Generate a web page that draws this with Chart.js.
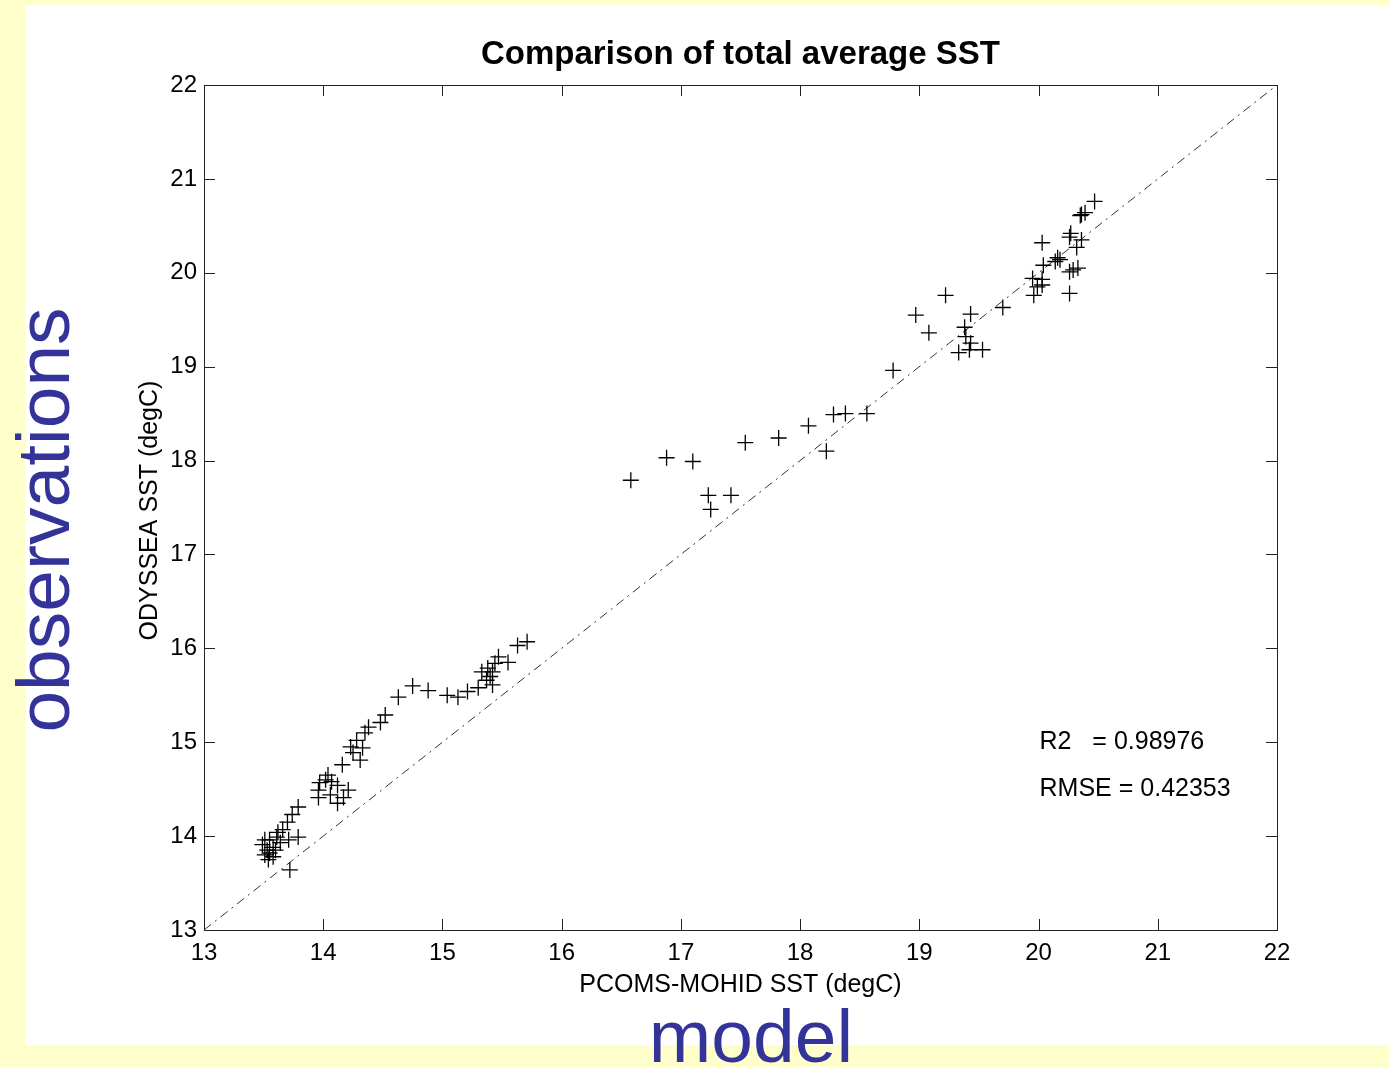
<!DOCTYPE html>
<html>
<head>
<meta charset="utf-8">
<title>Comparison of total average SST</title>
<script src="https://cdn.jsdelivr.net/npm/chart.js@4/dist/chart.umd.min.js"></script>
<style>
  html, body { margin: 0; padding: 0; background: #ffffcc; }
  canvas { display: block; }
</style>
</head>
<body>
<canvas id="sst-chart" width="1389" height="1067"></canvas>
<script>
// Modell (PCOMS-MOHID) gegen Satellit (ODYSSEA), Mittelwerte in degC
const modelSST = [
  14.52, 14.48, 14.38, 14.35, 14.28, 14.23, 14.33, 14.25, 14.31, 14.16,
  14.04, 14.02, 14.07, 13.97, 14.12, 13.96, 14.21, 14.06, 14.17, 14.12,
  13.96, 13.79, 13.74, 13.70, 13.66, 13.79, 13.61, 13.55, 13.71, 13.64,
  13.58, 13.53, 13.55, 13.51, 13.58, 13.54, 13.72, 13.60, 13.49, 13.62,
  13.51,
  14.63, 14.75, 14.88, 15.04, 15.13, 15.21, 15.30, 15.42, 15.37, 15.40,
  15.33, 15.42, 15.44, 15.47, 15.55, 15.63, 15.71, 15.38,
  16.58, 16.88, 17.10, 17.23, 17.42, 17.25, 17.54, 17.82, 18.07, 18.22,
  18.28, 18.38, 18.56,
  18.78, 18.97, 19.08, 19.22, 19.43, 19.38, 19.39, 19.33, 19.42, 19.53,
  19.43, 19.70, 19.96, 19.99, 19.95, 20.03, 20.04, 20.03, 20.26, 20.16,
  20.18, 20.29, 20.33, 20.27, 20.32, 20.36, 20.35, 20.39, 20.47, 20.36,
  20.26, 20.26, 20.03, 20.14
];
const obsSST = [
  15.29, 15.21, 15.16, 15.10, 15.02, 14.95, 14.94, 14.89, 14.81, 14.76,
  14.65, 14.60, 14.58, 14.57, 14.54, 14.49, 14.49, 14.44, 14.41, 14.35,
  14.41, 14.31, 14.23, 14.15, 14.07, 13.99, 13.99, 13.96, 13.96, 13.93,
  13.88, 13.85, 13.82, 13.80, 13.78, 13.75, 13.64, 13.85, 13.91, 14.04,
  13.96,
  15.48, 15.60, 15.55, 15.50, 15.48, 15.54, 15.58, 15.61, 15.66, 15.70,
  15.75, 15.75, 15.84, 15.91, 15.85, 16.03, 16.07, 15.79,
  17.79, 18.03, 17.99, 17.63, 17.63, 17.48, 18.19, 18.24, 18.37, 18.10,
  18.49, 18.50, 18.50,
  18.96, 19.55, 19.36, 19.76, 19.56, 19.42, 19.32, 19.15, 19.18, 19.18,
  19.25, 19.63, 19.76, 19.85, 19.94, 19.93, 20.08, 20.32, 19.78, 20.16,
  20.14, 20.03, 20.05, 20.42, 20.27, 20.35, 20.61, 20.64, 20.76, 20.62,
  20.38, 20.01, 19.87, 20.12
];

// 1:1-Linie und Achsenbereich
const identityLine = [13, 22];
const tickValues = [13, 14, 15, 16, 17, 18, 19, 20, 21, 22];

// Kennzahlen, die im Diagramm stehen
const statsLines = ['R2   = 0.98976', 'RMSE = 0.42353'];
const statsYPos = [15.0, 14.5];

const FONT = '"Liberation Sans", Arial, Helvetica, sans-serif';

const points = modelSST.map((x, i) => ({ x: x, y: obsSST[i] }));

// Hintergrund, Rahmen mit Innen-Ticks und alle Beschriftungen
const slidePlugin = {
  id: 'slide',
  beforeDraw(chart) {
    const ctx = chart.ctx;
    ctx.save();
    ctx.fillStyle = '#ffffcc';
    ctx.fillRect(0, 0, chart.width, chart.height);
    ctx.fillStyle = '#ffffff';
    ctx.fillRect(25, 5, chart.width - 25, 1040);
    ctx.restore();
  },
  afterDraw(chart) {
    const ctx = chart.ctx;
    const area = chart.chartArea;
    const xs = chart.scales.x;
    const ys = chart.scales.y;

    ctx.save();
    ctx.strokeStyle = '#222';
    ctx.lineWidth = 1;
    ctx.strokeRect(Math.round(area.left) + 0.5, Math.round(area.top) + 0.5,
                   Math.round(area.right - area.left), Math.round(area.bottom - area.top));

    const tick = 11;
    ctx.beginPath();
    tickValues.forEach(v => {
      const px = Math.round(xs.getPixelForValue(v)) + 0.5;
      ctx.moveTo(px, area.bottom); ctx.lineTo(px, area.bottom - tick);
      ctx.moveTo(px, area.top); ctx.lineTo(px, area.top + tick);
      const py = Math.round(ys.getPixelForValue(v)) + 0.5;
      ctx.moveTo(area.left, py); ctx.lineTo(area.left + tick, py);
      ctx.moveTo(area.right, py); ctx.lineTo(area.right - tick, py);
    });
    ctx.stroke();

    ctx.fillStyle = '#000';
    ctx.textAlign = 'center';
    ctx.textBaseline = 'alphabetic';
    ctx.font = 'bold 33px ' + FONT;
    ctx.fillText('Comparison of total average SST', (area.left + area.right) / 2, 64);

    ctx.font = '25px ' + FONT;
    ctx.fillText('PCOMS-MOHID SST (degC)', (area.left + area.right) / 2, 992);

    ctx.save();
    ctx.translate(157, (area.top + area.bottom) / 2 + 3);
    ctx.rotate(-Math.PI / 2);
    ctx.fillText('ODYSSEA SST (degC)', 0, 0);
    ctx.restore();

    ctx.textAlign = 'left';
    ctx.textBaseline = 'middle';
    ctx.font = '25px ' + FONT;
    statsLines.forEach((t, i) => {
      ctx.fillText(t, xs.getPixelForValue(20) + 1, ys.getPixelForValue(statsYPos[i]));
    });

    ctx.fillStyle = '#333399';
    ctx.textAlign = 'center';
    ctx.textBaseline = 'alphabetic';
    ctx.font = '75px ' + FONT;
    ctx.fillText('model', 751, 1062);

    ctx.save();
    ctx.translate(69, 520);
    ctx.rotate(-Math.PI / 2);
    ctx.fillText('observations', 0, 0);
    ctx.restore();

    ctx.restore();
  }
};

new Chart(document.getElementById('sst-chart'), {
  type: 'scatter',
  data: {
    datasets: [
      {
        label: 'SST',
        data: points,
        pointStyle: 'cross',
        pointRadius: 8,
        pointHoverRadius: 8,
        borderColor: '#000',
        borderWidth: 1.3
      },
      {
        type: 'line',
        label: '1:1',
        data: identityLine.map(v => ({ x: v, y: v })),
        borderColor: '#333',
        borderWidth: 1,
        borderDash: [9, 5, 2, 5],
        pointRadius: 0,
        fill: false
      }
    ]
  },
  options: {
    responsive: false,
    animation: false,
    devicePixelRatio: 1,
    layout: { padding: { left: 0, top: 85, right: 112, bottom: 0 } },
    plugins: {
      legend: { display: false },
      tooltip: { enabled: false },
      title: { display: false }
    },
    scales: {
      x: {
        type: 'linear',
        min: 13,
        max: 22,
        grid: { display: false, drawTicks: false },
        border: { display: false },
        ticks: { stepSize: 1, color: '#000', padding: 9, font: { size: 24, family: FONT } },
        afterFit(scale) { scale.height = 137; }
      },
      y: {
        type: 'linear',
        min: 13,
        max: 22,
        grid: { display: false, drawTicks: false },
        border: { display: false },
        ticks: { stepSize: 1, color: '#000', padding: 7, font: { size: 24, family: FONT } },
        afterFit(scale) { scale.width = 204; }
      }
    }
  },
  plugins: [slidePlugin]
});
</script>
</body>
</html>
